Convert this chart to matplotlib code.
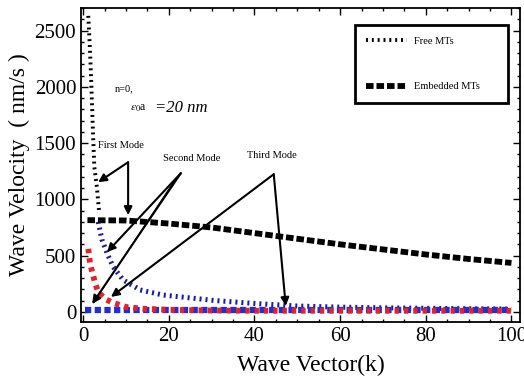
import matplotlib
matplotlib.use("Agg")
import matplotlib.pyplot as plt
from matplotlib.lines import Line2D
from matplotlib.ticker import MultipleLocator

plt.rcParams['font.family'] = ['Liberation Serif', 'DejaVu Serif']
plt.rcParams['mathtext.fontset'] = 'stix'

# ---- data ----
free_first_k = [1.2, 1.6, 1.9, 2.3, 2.6, 3.2, 3.7]
free_first_v = [2630, 2320, 2030, 1590, 1290, 1110, 900]

free_second_k = [3.5, 4.4, 5.6, 7, 9.3, 13.3, 18.6, 25, 31, 40, 50, 60, 70, 80, 90, 100]
free_second_v = [800, 640, 520, 400, 285, 195, 150, 124, 100, 75, 52, 42, 36, 32, 28, 25]

free_third_k = [1.2, 1.6, 2.1, 2.8, 3.5, 5.1, 7, 10, 14, 20, 30, 40, 60, 80, 100]
free_third_v = [560, 434, 355, 257, 177, 115, 80, 44, 28, 18, 12, 10, 10, 10, 10]

emb_low_k = [0.5, 100]
emb_low_v = [20, 20]

emb_k = [1, 10, 20, 30, 40, 50, 60, 70, 80, 90, 100]
emb_v = [815, 812, 785, 750, 700, 650, 600, 555, 510, 470, 435]

xticks = [0, 20, 40, 60, 80, 100]
yticks = [0, 500, 1000, 1500, 2000, 2500]
legend_labels = ["Free MTs", "Embedded MTs"]

fig = plt.figure(figsize=(5.24, 3.85), dpi=100)
ax = fig.add_axes([0.1546, 0.1636, 0.8378, 0.8156])

ax.plot(free_first_k, free_first_v, color='black', lw=2.8,
        linestyle=(0, (0.5, 1.0)), zorder=3)
ax.plot(free_second_k, free_second_v, color='#1a1aa8', lw=3.6,
        linestyle=(0, (0.4, 0.8)), zorder=3)
ax.plot(emb_low_k, emb_low_v, color='#1f2fd6', lw=4.5,
        linestyle=(0, (1.0, 0.55)), zorder=3)
ax.plot(free_third_k, free_third_v, color='#e5222a', lw=4.2,
        linestyle=(0, (0.75, 0.85)), zorder=4)
ax.plot(emb_k, emb_v, color='black', lw=4.2,
        linestyle=(0, (1.3, 0.5)), zorder=5)

ax.set_xlim(-0.5, 102)
ax.set_ylim(-90, 2700)
ax.set_xticks(xticks)
ax.set_yticks(yticks)
ax.xaxis.set_minor_locator(MultipleLocator(5))
ax.yaxis.set_minor_locator(MultipleLocator(100))
ax.tick_params(which='both', direction='in', top=True, right=True,
               labelsize=15, width=1.0)
ax.tick_params(which='major', length=5)
ax.tick_params(which='minor', length=2.5)
for s in ax.spines.values():
    s.set_linewidth(1.3)

ax.set_xlabel("Wave Vector(k)", fontsize=17)
ax.set_ylabel("Wave Velocity  ( nm/s )", fontsize=17)
ax.xaxis.set_label_coords(0.524, -0.105)
ax.yaxis.set_label_coords(-0.116, 0.5)

# annotations
ax.text(7.5, 1986, "n=0,", fontsize=7.5, va='center', ha='left')
ax.text(11, 1808, r"$\varepsilon_0$a", fontsize=8.5, va='center', ha='left')
ax.text(16.8, 1808, "=20 nm", fontsize=12, style='italic', va='center', ha='left')
ax.text(3.5, 1480, "First Mode", fontsize=7.5, va='center', ha='left')
ax.text(18.6, 1365, "Second Mode", fontsize=7.5, va='center', ha='left')
ax.text(38.2, 1392, "Third Mode", fontsize=7.5, va='center', ha='left')

arr = dict(arrowstyle='-|>', color='black', lw=1.5, mutation_scale=12,
           shrinkA=0, shrinkB=0)
thin = dict(arrowstyle='-', color='black', lw=0.8, shrinkA=0, shrinkB=0)
# First Mode
ax.annotate("", xy=(3.5, 1152), xytext=(10.5, 1330), arrowprops=arr, zorder=6)
ax.annotate("", xy=(10.5, 860), xytext=(10.5, 1330), arrowprops=arr, zorder=6)
# Second Mode
ax.annotate("", xy=(5.6, 532), xytext=(22.8, 1232), arrowprops=arr, zorder=6)
ax.annotate("", xy=(2.1, 71), xytext=(22.8, 1232), arrowprops=arr, zorder=6)
ax.annotate("", xy=(2.4, 80), xytext=(21.7, 1188), arrowprops=thin, zorder=6)
# Third Mode
ax.annotate("", xy=(6.5, 133), xytext=(44.5, 1223), arrowprops=arr, zorder=6)
ax.annotate("", xy=(47.3, 53), xytext=(44.5, 1223), arrowprops=arr, zorder=6)

handles = [Line2D([], [], color='black', lw=2.8, linestyle=(0, (0.5, 1.0))),
           Line2D([], [], color='black', lw=4.2, linestyle=(0, (1.3, 0.5)))]
leg = ax.legend(handles, legend_labels, loc='upper left',
                bbox_to_anchor=(0.624, 0.697, 0.349, 0.249), mode='expand',
                fontsize=7.5, handlelength=3.9, handletextpad=0.7,
                labelspacing=3.5, borderpad=1.1, fancybox=False,
                edgecolor='black', framealpha=1, borderaxespad=0)
leg.get_frame().set_linewidth(2)

fig.savefig("out.png", dpi=100)
